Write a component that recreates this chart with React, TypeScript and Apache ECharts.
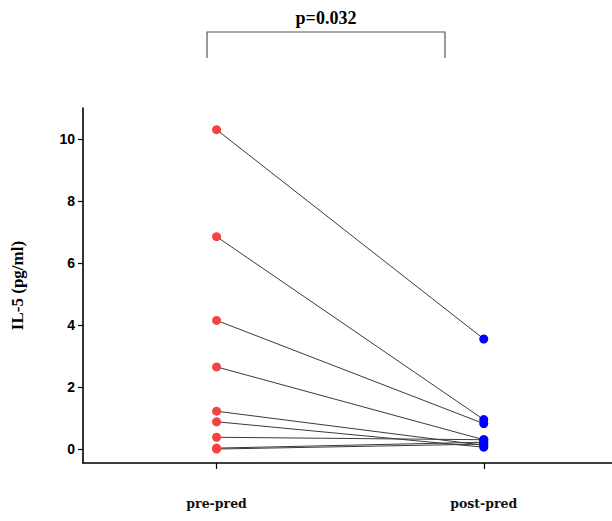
import React, { useEffect, useRef } from "react";
import * as echarts from "echarts";

const categories = ["pre-pred", "post-pred"];
const preValues = [10.3, 6.85, 4.15, 2.65, 1.22, 0.88, 0.38, 0.03, 0.0];
const postValues = [3.55, 0.95, 0.82, 0.3, 0.12, 0.06, 0.3, 0.22, 0.16];
const yTicks = [0, 2, 4, 6, 8, 10];
const pLabel = "p=0.032";

export default function App() {
  const ref = useRef<HTMLDivElement>(null);
  useEffect(() => {
    document.body.style.margin = "0";
    const chart = echarts.init(ref.current!, undefined, { renderer: "svg" });
    const lineSeries = preValues.map((v, i) => ({
      type: "line",
      data: [
        [1, v],
        [2, postValues[i]],
      ],
      showSymbol: false,
      symbol: "none",
      lineStyle: { color: "#3a3a3a", width: 1 },
      silent: true,
      z: 2,
    }));
    chart.setOption({
      animation: false,
      grid: { left: 83, right: 0, top: 108, bottom: 58 },
      xAxis: {
        type: "value",
        min: 0.5,
        max: 2.48,
        splitLine: { show: false },
        axisLine: { show: true, onZero: false, lineStyle: { color: "#000", width: 1.6 } },
        axisTick: { show: true, customValues: [1, 2], length: 6, lineStyle: { color: "#000", width: 1.2 } },
        axisLabel: {
          customValues: [1, 2],
          formatter: (v: number) => categories[Math.round(v) - 1] ?? "",
          margin: 34,
          color: "#111",
          fontFamily: "DejaVu Serif",
          fontWeight: "bold",
          fontSize: 12.5,
        },
      },
      yAxis: {
        type: "value",
        min: -0.45,
        max: 11,
        name: "IL-5 (pg/ml)",
        nameLocation: "middle",
        nameGap: 57,
        nameRotate: 90,
        nameTextStyle: {
          fontFamily: "Liberation Serif",
          fontWeight: "bold",
          fontSize: 17,
          color: "#000",
        },
        splitLine: { show: false },
        axisLine: { show: true, onZero: false, lineStyle: { color: "#000", width: 1.6 } },
        axisTick: { show: true, customValues: yTicks, length: 5, lineStyle: { color: "#000", width: 1.2 } },
        axisLabel: {
          customValues: yTicks,
          margin: 8,
          color: "#000",
          fontFamily: "Liberation Sans",
          fontWeight: "bold",
          fontSize: 14,
        },
      },
      series: [
        ...lineSeries,
        {
          type: "scatter",
          data: preValues.map((v) => [1, v]),
          symbolSize: 9,
          itemStyle: { color: "#f44343", opacity: 1 },
          z: 3,
        },
        {
          type: "scatter",
          data: postValues.map((v) => [2, v]),
          symbolSize: 9,
          itemStyle: { color: "#0000ff", opacity: 1 },
          z: 3,
        },
      ],
      graphic: [
        {
          type: "polyline",
          shape: { points: [[207, 58], [207, 32], [445, 32], [445, 58]] },
          style: { stroke: "#555", lineWidth: 1.2, fill: "none" },
        },
        {
          type: "text",
          x: 326,
          y: 18,
          style: {
            text: pLabel,
            fontFamily: "Liberation Serif",
            fontWeight: "bold",
            fontSize: 18,
            fill: "#000",
            align: "center",
            verticalAlign: "middle",
          },
        },
      ],
    });
    return () => chart.dispose();
  }, []);
  return <div ref={ref} style={{ width: 612, height: 521 }} />;
}
